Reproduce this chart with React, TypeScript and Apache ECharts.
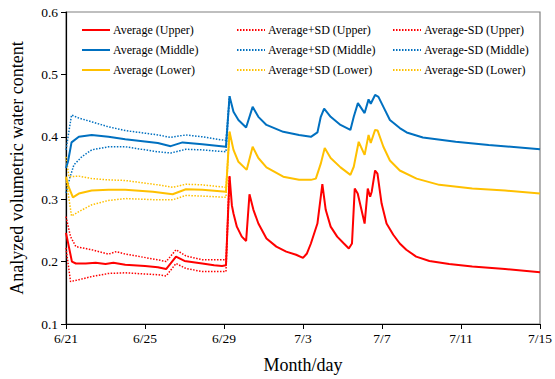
import React, { useEffect, useRef } from "react";
import * as echarts from "echarts";

// x values are days elapsed since 6/21; each tick is 4 days apart
const tickLabels = ["6/21", "6/25", "6/29", "7/3", "7/7", "7/11", "7/15"];

const avgUpper: [number, number][] = [
  [0.0, 0.246], [0.3, 0.2], [0.5, 0.197], [1.0, 0.197], [1.5, 0.198], [2.0, 0.196],
  [2.4, 0.198], [3.0, 0.195], [4.0, 0.193], [4.65, 0.191], [5.07, 0.188], [5.3, 0.197],
  [5.57, 0.208], [6.0, 0.201], [6.9, 0.197], [7.5, 0.194], [7.9, 0.193], [8.1, 0.194],
  [8.28, 0.337], [8.4, 0.29], [8.48, 0.277], [8.65, 0.256], [8.9, 0.24], [9.12, 0.233],
  [9.29, 0.308], [9.49, 0.283], [9.74, 0.261], [10.15, 0.237], [10.65, 0.224], [11.15, 0.216],
  [11.65, 0.211], [12.0, 0.206], [12.2, 0.213], [12.4, 0.229], [12.73, 0.261], [12.98, 0.324],
  [13.15, 0.283], [13.4, 0.256], [13.73, 0.24], [14.07, 0.229], [14.32, 0.221], [14.48, 0.229],
  [14.62, 0.317], [14.77, 0.309], [15.12, 0.261], [15.28, 0.317], [15.4, 0.304], [15.48, 0.312],
  [15.65, 0.346], [15.77, 0.341], [15.98, 0.293], [16.23, 0.261], [16.57, 0.243], [16.9, 0.229],
  [17.23, 0.219], [17.73, 0.208], [18.4, 0.201], [19.4, 0.196], [20.57, 0.192], [22.23, 0.188],
  [24.0, 0.183],
];
const plusSdUpper: [number, number][] = [
  [0.0, 0.272], [0.23, 0.24], [0.5, 0.224], [1.3, 0.219], [2.15, 0.212], [2.55, 0.216],
  [3.0, 0.212], [4.65, 0.203], [5.07, 0.2], [5.57, 0.219], [6.07, 0.209], [6.9, 0.203],
  [8.1, 0.203], [8.28, 0.337],
];
const minusSdUpper: [number, number][] = [
  [0.0, 0.222], [0.23, 0.168], [0.65, 0.171], [1.3, 0.176], [2.15, 0.181], [3.0, 0.182],
  [4.65, 0.179], [5.07, 0.177], [5.57, 0.197], [6.07, 0.189], [6.9, 0.184], [8.1, 0.184],
  [8.28, 0.337],
];

const avgMiddle: [number, number][] = [
  [0.0, 0.35], [0.1, 0.36], [0.28, 0.391], [0.65, 0.4], [1.3, 0.403], [2.15, 0.4],
  [3.0, 0.396], [4.65, 0.39], [5.3, 0.385], [5.9, 0.391], [6.9, 0.388], [8.1, 0.384],
  [8.28, 0.465], [8.48, 0.44], [8.73, 0.427], [9.12, 0.415], [9.45, 0.448], [9.74, 0.432],
  [10.15, 0.419], [11.0, 0.408], [11.8, 0.403], [12.4, 0.4], [12.73, 0.407], [12.9, 0.432],
  [13.07, 0.445], [13.4, 0.432], [13.9, 0.419], [14.4, 0.411], [14.57, 0.432], [14.78, 0.454],
  [15.12, 0.438], [15.32, 0.46], [15.43, 0.453], [15.65, 0.467], [15.82, 0.464], [16.07, 0.448],
  [16.4, 0.427], [16.9, 0.414], [17.25, 0.407], [18.07, 0.399], [19.73, 0.392], [21.4, 0.387],
  [24.0, 0.38],
];
const plusSdMiddle: [number, number][] = [
  [0.0, 0.379], [0.28, 0.435], [0.65, 0.43], [1.3, 0.424], [2.15, 0.416], [3.0, 0.41],
  [4.65, 0.403], [5.3, 0.399], [6.07, 0.403], [6.9, 0.4], [8.1, 0.394], [8.28, 0.465],
];
const minusSdMiddle: [number, number][] = [
  [0.0, 0.31], [0.2, 0.335], [0.4, 0.355], [0.8, 0.368], [1.3, 0.379], [2.15, 0.384],
  [3.0, 0.384], [4.65, 0.376], [5.3, 0.374], [6.07, 0.38], [6.9, 0.379], [8.1, 0.376],
  [8.28, 0.465],
];

const avgLower: [number, number][] = [
  [0.0, 0.336], [0.13, 0.32], [0.35, 0.303], [0.65, 0.309], [1.3, 0.314], [2.15, 0.315],
  [3.0, 0.315], [4.4, 0.312], [5.4, 0.308], [6.07, 0.316], [6.9, 0.315], [8.1, 0.312],
  [8.28, 0.408], [8.48, 0.379], [8.73, 0.36], [9.15, 0.347], [9.45, 0.384], [9.74, 0.366],
  [10.15, 0.351], [11.0, 0.336], [11.8, 0.331], [12.4, 0.331], [12.65, 0.333], [12.9, 0.357],
  [13.1, 0.382], [13.4, 0.366], [13.9, 0.351], [14.4, 0.339], [14.57, 0.352], [14.82, 0.392],
  [15.12, 0.371], [15.32, 0.403], [15.43, 0.39], [15.65, 0.411], [15.78, 0.41], [16.07, 0.384],
  [16.4, 0.362], [16.9, 0.346], [17.75, 0.333], [18.9, 0.323], [20.57, 0.317], [22.23, 0.314],
  [24.0, 0.309],
];
const plusSdLower: [number, number][] = [
  [0.0, 0.368], [0.15, 0.336], [0.65, 0.337], [1.3, 0.333], [2.15, 0.331], [3.0, 0.33],
  [4.65, 0.323], [5.4, 0.319], [6.07, 0.324], [6.9, 0.323], [8.1, 0.319], [8.28, 0.408],
];
const minusSdLower: [number, number][] = [
  [0.0, 0.333], [0.28, 0.273], [0.65, 0.28], [1.3, 0.291], [2.15, 0.298], [3.0, 0.301],
  [4.65, 0.299], [5.4, 0.299], [6.07, 0.306], [6.9, 0.305], [8.1, 0.303], [8.28, 0.408],
];

const RED = "#FF0000";
const BLUE = "#0070C0";
const YELLOW = "#FFC000";
const FONT = "Liberation Serif";

function solid(name: string, color: string, data: [number, number][]) {
  return {
    name, type: "line", data, symbol: "none", z: 3,
    lineStyle: { color, width: 2 }, itemStyle: { color },
  };
}
function dotted(name: string, color: string, data: [number, number][]) {
  return {
    name, type: "line", data, symbol: "none", z: 2,
    lineStyle: { color, width: 1.5, type: [1.5, 1.5] }, itemStyle: { color },
  };
}

function legendColumn(left: number, names: string[]) {
  return {
    left, top: 24, padding: 0, orient: "vertical", itemWidth: 28, itemHeight: 12, itemGap: 8,
    data: names, selectedMode: false,
    itemStyle: { opacity: 0 },
    textStyle: { fontFamily: FONT, fontSize: 12, color: "#000", padding: [0, 0, 0, -2] },
  };
}

export default function App() {
  const ref = useRef<HTMLDivElement>(null);
  useEffect(() => {
    if (!ref.current) return;
    const chart = echarts.init(ref.current, undefined, { renderer: "svg" });
    chart.setOption({
      animation: false,
      backgroundColor: "#fff",
      textStyle: { fontFamily: FONT },
      grid: { left: 62, right: 13, top: 12, bottom: 55, show: true, borderColor: "#808080", borderWidth: 1.2 },
      legend: [
        legendColumn(81, ["Average (Upper)", "Average (Middle)", "Average (Lower)"]),
        legendColumn(236, ["Average+SD (Upper)", "Average+SD (Middle)", "Average+SD (Lower)"]),
        legendColumn(392, ["Average-SD (Upper)", "Average-SD (Middle)", "Average-SD (Lower)"]),
      ],
      xAxis: {
        type: "value", min: 0, max: 24, interval: 4,
        name: "Month/day", nameLocation: "middle", nameGap: 32,
        nameTextStyle: { fontFamily: FONT, fontSize: 18, color: "#000" },
        axisLine: { lineStyle: { color: "#000", width: 1.2 } },
        axisTick: { show: true, length: 5, lineStyle: { color: "#000" } },
        axisLabel: {
          fontFamily: FONT, fontSize: 13.5, color: "#000", margin: 7,
          formatter: (v: number) => tickLabels[Math.round(v / 4)] ?? "",
        },
        splitLine: { show: false },
      },
      yAxis: {
        type: "value", min: 0.1, max: 0.6, interval: 0.1,
        name: "Analyzed volumetric water content", nameLocation: "middle", nameGap: 40,
        nameTextStyle: { fontFamily: FONT, fontSize: 18, color: "#000" },
        axisLine: { show: true, lineStyle: { color: "#000", width: 1.2 } },
        axisTick: { show: true, length: 5, lineStyle: { color: "#000" } },
        axisLabel: {
          fontFamily: FONT, fontSize: 13.5, color: "#000", margin: 8,
          formatter: (v: number) => v.toFixed(1),
        },
        splitLine: { show: false },
      },
      series: [
        dotted("Average+SD (Upper)", RED, plusSdUpper),
        dotted("Average-SD (Upper)", RED, minusSdUpper),
        dotted("Average+SD (Middle)", BLUE, plusSdMiddle),
        dotted("Average-SD (Middle)", BLUE, minusSdMiddle),
        dotted("Average+SD (Lower)", YELLOW, plusSdLower),
        dotted("Average-SD (Lower)", YELLOW, minusSdLower),
        solid("Average (Upper)", RED, avgUpper),
        solid("Average (Middle)", BLUE, avgMiddle),
        solid("Average (Lower)", YELLOW, avgLower),
      ],
    });
    return () => chart.dispose();
  }, []);
  return (
    <div
      ref={ref}
      style={{ position: "fixed", left: 0, top: 0, width: 555, height: 379 }}
    />
  );
}
